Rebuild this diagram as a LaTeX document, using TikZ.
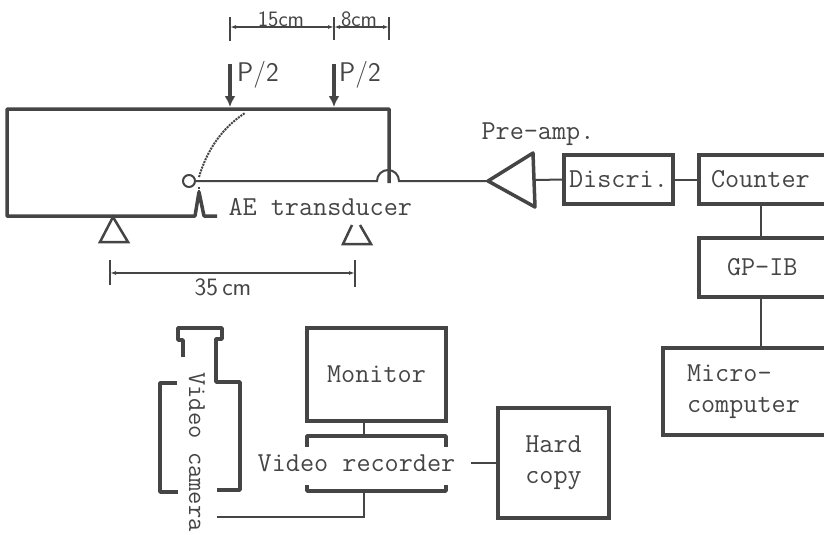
\documentclass[tikz,border=0pt]{standalone}
\usepackage{tikz}
\usetikzlibrary{calc,arrows.meta}

\definecolor{ink}{gray}{0.27}

\tikzset{
  heavy/.style={line width=3.5pt,ink,line join=round},
  light/.style={line width=2pt,ink},
  boxnode/.style={draw=ink,line width=3.5pt,anchor=north west,outer sep=0pt,inner ysep=0pt,minimum height=#1},
  typed/.style={text=ink,font=\ttfamily\fontsize{27.4}{31}\selectfont},
  sanslabel/.style={text=ink,font=\sffamily\fontsize{#1}{#1}\selectfont,inner sep=0pt}
}

\begin{document}
\begin{tikzpicture}[x=1pt,y=-1pt]
\useasboundingbox (0,0) rectangle (824,535);

% beam
\draw[heavy] (389,183) -- (389,109) -- (7,109) -- (7,216) -- (195,216) -- (199,192) -- (204,216) -- (217,216);
\node[circle,draw=ink,line width=2pt,minimum size=12pt,inner sep=0pt] (crack) at (189,181) {};
\draw[light,densely dotted] (199,177) .. controls (207,150) and (222,128) .. (245,113);
\draw[light,densely dotted] (199,187) -- (199,192);

% supports
\node[typed,anchor=west] (aelabel) at (225,207) {AE transducer};
\draw[light,line width=2.5pt] (113,217) -- (100,242) -- (128,242) -- cycle;
\draw[light,line width=2.5pt] (352,225) -- (343,244) -- (371,244) -- (360,225);

% loads
\draw[line width=3.5pt,ink,-{Latex[length=11pt,width=11pt]}] (230,64) -- (230,107);
\draw[line width=3.5pt,ink,-{Latex[length=11pt,width=11pt]}] (334,64) -- (334,107);
\node[sanslabel=27,anchor=west] (loadA) at (237,75) {P/2};
\node[sanslabel=27,anchor=west] (loadB) at (339,75) {P/2};

% upper dimensions
\draw[light] (230,17) -- (230,41);
\draw[light] (334,17) -- (334,40);
\draw[light] (389,17) -- (389,40);
\draw[light,{Latex[length=6pt,width=4pt]}-{Latex[length=6pt,width=4pt]}] (230,27) -- (334,27);
\draw[light,{Latex[length=6pt,width=4pt]}-{Latex[length=6pt,width=4pt]}] (334,27) -- (389,27);
\node[sanslabel=22] (spanA) at (281,19) {15cm};
\node[sanslabel=22] (spanB) at (359,19) {8cm};

% lower dimension
\draw[light] (110,260) -- (110,285);
\draw[light] (355,260) -- (355,287);
\draw[light,{Latex[length=6pt,width=4pt]}-{Latex[length=6pt,width=4pt]}] (110,273) -- (355,273);
\node[sanslabel=25] (spanC) at (223,287) {35\,cm};

% amplifier chain
\coordinate (ampin) at (488,181);
\coordinate (ampout) at (535,180);
\draw[heavy] (ampin) -- (533,153) -- (535,207) -- cycle;
\node[typed,anchor=west] (amplabel) at (478,134) {Pre-amp.};
\node[boxnode=49pt,typed,minimum width=109pt,inner xsep=0pt] (discri) at (564,155) {Discri.};
\node[boxnode=49pt,typed,inner xsep=12pt,text width=107pt,align=left] (counter) at (699,155) {Counter};
\node[boxnode=59pt,typed,inner xsep=28pt,text width=75pt,align=left] (gpib) at (699,238) {GP-IB};
\node[boxnode=87pt,typed,inner xsep=24pt,text width=130pt,align=left] (micro) at (663,348) {Micro-\\computer};

% signal line with hump at the beam end
\draw[light] (crack.east) -- (377,181) arc[start angle=180,end angle=360,radius=11] -- (ampin);
\draw[light] (ampout) -- (discri.west);
\draw[light] (discri.east) -- (counter.west);
\coordinate (busx) at (761,270);
\draw[light] (busx|-counter.south) -- (busx|-gpib.north);
\draw[light] (busx|-gpib.south) -- (busx|-micro.north);

% video camera
\draw[heavy] (183,357) -- (183,340) -- (178,340) -- (178,328) -- (222,328) -- (222,339) -- (216,339) -- (216,382) -- (240,382) -- (240,490) -- (217,490);
\draw[heavy] (177,383) -- (160,383) -- (160,492) -- (178,492);
\node[typed,rotate=-90,font=\ttfamily\fontsize{25.8}{31}\selectfont,inner sep=0pt] (camlabel) at (197,452) {Video camera};

% monitor and recorder
\node[boxnode=93pt,typed,minimum width=139pt] (monitor) at (307,328) {Monitor};
\node[typed] (recorder) at (356.5,463) {Video recorder};
\coordinate (rectop) at (364,436);
\coordinate (recbot) at (364,491);
\coordinate (camtail) at (217,517);
\draw[heavy] (307,447) -- (307,436) -- (446,436) -- (446,447);
\draw[heavy] (307,485) -- (307,491) -- (446,491) -- (446,485);
\draw[light] (rectop|-monitor.south) -- (rectop);
\draw[light] (recbot) |- (camtail);

% hard copy
\node[boxnode=110pt,typed,minimum width=111pt,align=center] (hard) at (498,408) {Hard\\copy};
\draw[light,shorten <=12pt] (recorder.east) -- (hard.west|-recorder.east);
\end{tikzpicture}
\end{document}
